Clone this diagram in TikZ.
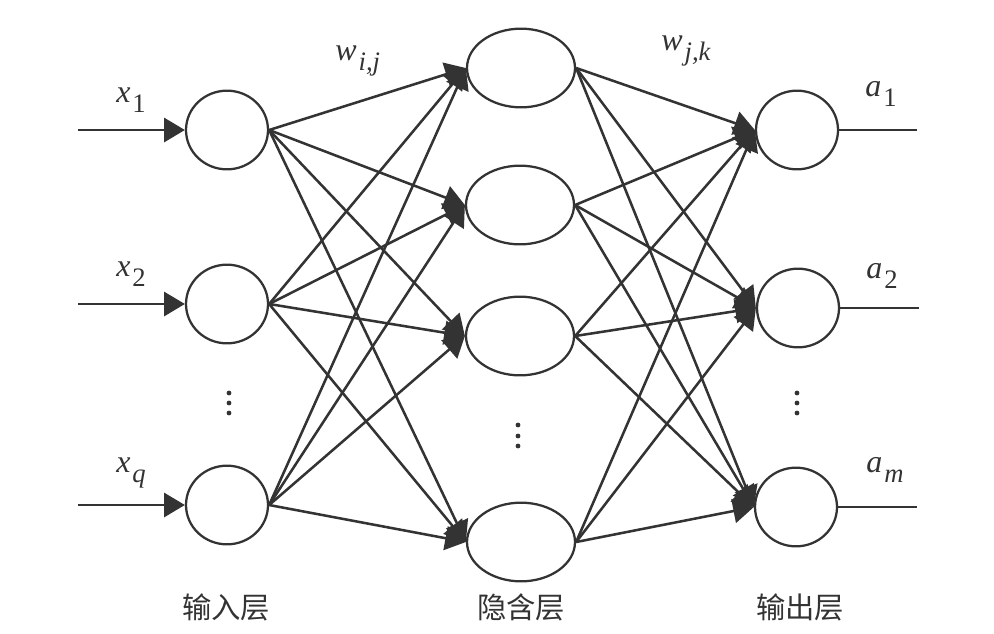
\documentclass[tikz,border=0pt]{standalone}
\usepackage{fontspec}
\setmainfont{Liberation Serif}
\newfontfamily\cjk{Noto Sans CJK SC}
\usetikzlibrary{shapes.geometric,arrows.meta}
\definecolor{ink}{HTML}{333333}
\newcommand\vlab[2]{\textit{#1}\kern1.5pt\raisebox{-0.33em}{\fontsize{20}{20}\selectfont #2}}
\begin{document}
\begin{tikzpicture}[x=0.75pt,y=-0.75pt,
  cell/.style={ellipse,draw=ink,line width=1.7pt,inner sep=0pt,minimum width=61.5pt,minimum height=59pt},
  hcell/.style={cell,minimum width=81pt},
  edge/.style={draw=ink,line width=1.9pt,-{Triangle[length=15.5pt,width=18pt]}},
  plain/.style={draw=ink,line width=1.9pt},
  lab/.style={anchor=base west,inner sep=0pt,text=ink,font=\fontsize{24}{24}\selectfont},
  cjklab/.style={inner sep=0pt,text=ink,font=\cjk\fontsize{22}{22}\selectfont}]
\useasboundingbox (0,0) rectangle (994,633);
% input layer
\node[cell] (i1) at (227,130) {};
\node[cell] (i2) at (227,304) {};
\node[cell] (i3) at (227,505) {};
% hidden layer
\node[hcell] (h1) at (521,68) {};
\node[hcell] (h2) at (520,205) {};
\node[hcell] (h3) at (520,336) {};
\node[hcell] (h4) at (521,542) {};
% output layer
\node[cell] (o1) at (797,130) {};
\node[cell] (o2) at (798,308) {};
\node[cell] (o3) at (796,507) {};
% input / output stubs
\coordinate (in1) at (78,130);
\coordinate (in2) at (78,304);
\coordinate (in3) at (78,505);
\coordinate (out1) at (917,130);
\coordinate (out2) at (919,308);
\coordinate (out3) at (917,507);
\foreach \k in {1,2,3}{
  \draw[edge] (in\k) -- (i\k.west);
  \draw[plain] (o\k.east) -- (out\k);
}
% connections
\foreach \a in {1,2,3}{
  \foreach \b in {1,2,3,4}{
    \draw[edge] (i\a.east) -- (h\b.west);
  }
}
\foreach \b in {1,2,3,4}{
  \foreach \c in {1,2,3}{
    \draw[edge] (h\b.east) -- (o\c.west);
  }
}
% dots
\foreach \y in {393,403,413}{
  \fill[ink] (229,\y) circle (2.4);
  \fill[ink] (797,\y) circle (2.4);
}
\foreach \y in {425,436,446}{
  \fill[ink] (518,\y) circle (2.4);
}
% labels
\node[lab] (lx1) at (116,102) {\vlab{x}{1}};
\node[lab] (lx2) at (116,276) {\vlab{x}{2}};
\node[lab] (lxq) at (116,472) {\vlab{x}{\textit{q}}};
\node[lab] (la1) at (865,96) {\vlab{a}{1}};
\node[lab] (la2) at (866,278) {\vlab{a}{2}};
\node[lab] (lam) at (866,472) {\vlab{a}{\textit{m}}};
\node[lab] (lw1) at (335,60) {\vlab{w}{\textit{i,j}}};
\node[lab] (lw2) at (661,50) {\vlab{w}{\textit{j,k}}};
\node[cjklab] (t1) at (226,607) {输入层};
\node[cjklab] (t2) at (521,607) {隐含层};
\node[cjklab] (t3) at (800,607) {输出层};
\end{tikzpicture}
\end{document}
